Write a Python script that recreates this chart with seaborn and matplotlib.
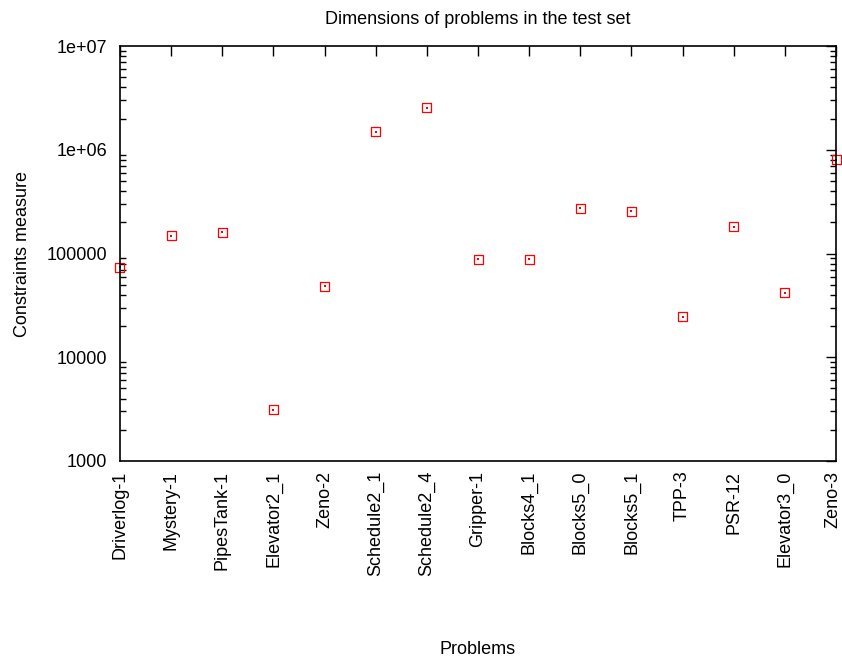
import numpy as np
import pandas as pd
import matplotlib
matplotlib.use("Agg")
import matplotlib.pyplot as plt
import matplotlib.transforms as mtransforms
import seaborn as sns
from matplotlib.ticker import LogLocator, NullFormatter, FixedLocator

# data
problems = ["Driverlog-1", "Mystery-1", "PipesTank-1", "Elevator2_1", "Zeno-2",
            "Schedule2_1", "Schedule2_4", "Gripper-1", "Blocks4_1", "Blocks5_0",
            "Blocks5_1", "TPP-3", "PSR-12", "Elevator3_0", "Zeno-3"]
measure = [74000, 149000, 160000, 3130, 48500,
           1490000, 2540000, 88000, 88000, 274000,
           257000, 24500, 182000, 42000, 800000]

df = pd.DataFrame({"idx": np.arange(len(problems)), "measure": measure})

sns.set_theme(style="white")
plt.rcParams["font.family"] = ["Liberation Sans", "DejaVu Sans"]
plt.rcParams["text.color"] = "black"
plt.rcParams["axes.labelcolor"] = "black"
plt.rcParams["xtick.color"] = "black"
plt.rcParams["ytick.color"] = "black"
fs = 13

fig = plt.figure(figsize=(8.42, 6.59), dpi=100)
ax = fig.add_axes([0.1425, 0.3005, 0.8504, 0.6295])

# open squares with a dot in the middle (gnuplot style)
sns.scatterplot(data=df, x="idx", y="measure", ax=ax, marker="s", s=42,
                facecolor="none", edgecolor="red", linewidth=0.9, clip_on=False)
sns.scatterplot(data=df, x="idx", y="measure", ax=ax, marker="s", s=1.5,
                color="red", linewidth=0, clip_on=False)

ax.set_yscale("log")
ax.set_ylim(1000, 1e7)
ax.set_xlim(0, len(problems) - 1)
ax.xaxis.set_major_locator(FixedLocator(np.arange(len(problems))))
ax.set_xticklabels(problems, rotation=90, fontsize=fs)
ax.yaxis.set_minor_locator(LogLocator(base=10, subs=np.arange(2, 10), numticks=10))
ax.yaxis.set_minor_formatter(NullFormatter())
ax.set_yticks([1e3, 1e4, 1e5, 1e6, 1e7])
ax.set_yticklabels(["1000", "10000", "100000", "1e+06", "1e+07"], fontsize=fs)

ax.tick_params(axis="x", which="major", direction="in", length=7, width=1,
               top=True, color="black", pad=7)
ax.tick_params(axis="y", which="major", direction="in", length=7, width=1,
               right=True, color="black", pad=9)
ax.tick_params(axis="y", which="minor", direction="in", length=4, width=1,
               left=True, right=True, color="black")
for sp in ax.spines.values():
    sp.set_color("black")
    sp.set_linewidth(1.2)

# keep the last label inside the figure
last = ax.get_xticklabels()[-1]
last.set_transform(last.get_transform() +
                   mtransforms.ScaledTranslation(-3 / 100, 0, fig.dpi_scale_trans))

ax.set_title("Dimensions of problems in the test set", fontsize=fs, pad=16)
ax.set_xlabel("Problems", fontsize=fs)
ax.xaxis.set_label_coords(0.5, -0.434)
ax.set_ylabel("Constraints measure", fontsize=fs)
ax.yaxis.set_label_coords(-0.124, 0.5)

fig.savefig("out.png", dpi=100)
